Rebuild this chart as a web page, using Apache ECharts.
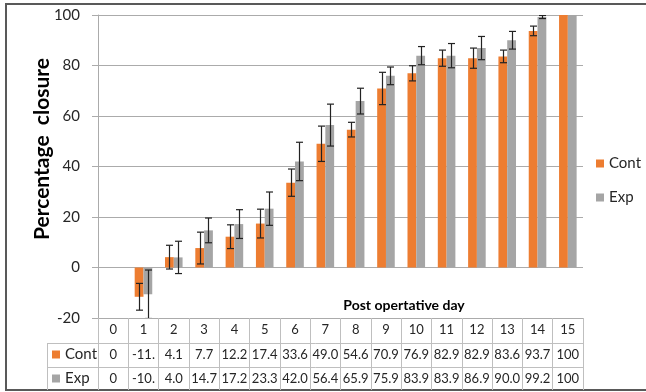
<!DOCTYPE html>
<html><head><meta charset="utf-8">
<script src="https://cdn.jsdelivr.net/npm/echarts@6/dist/echarts.min.js"></script>
<style>html,body{margin:0;padding:0;background:#fff}#c{width:646px;height:392px}</style>
</head><body><div id="c"></div>
<script>
// ---- data ----
const days = ['0','1','2','3','4','5','6','7','8','9','10','11','12','13','14','15'];
const cont = [0, -11.6, 4.1, 7.7, 12.2, 17.4, 33.6, 49.0, 54.6, 70.9, 76.9, 82.9, 82.9, 83.6, 93.7, 100];
const exp  = [0, -10.6, 4.0, 14.7, 17.2, 23.3, 42.0, 56.4, 65.9, 75.9, 83.9, 83.9, 86.9, 90.0, 99.2, 100];
const contErr = [0, 5.3, 4.7, 6.3, 4.7, 5.7, 5.4, 7.0, 2.9, 6.4, 3.0, 3.2, 4.0, 2.5, 1.9, 0];
const expErr  = [0, 9.6, 6.4, 4.9, 5.7, 6.6, 7.6, 8.3, 5.1, 3.5, 3.6, 4.8, 4.6, 3.5, 0.6, 0];
const seriesNames = ['Cont', 'Exp'];
const yMin = -20, yMax = 100, yStep = 20;
const yTitle = 'Percentage  closure';
const xTitle = 'Post opertative day';

// ---- layout / style ----
const FONT = 'Lato, "Open Sans", sans-serif';
const G = {left: 98, right: 63, top: 15, bottom: 74};
const W = 646, H = 392;
const BAR_FRAC = 0.29;
const ORANGE = '#ED7D31', GREY = '#A5A5A5';
const GRID_C = '#ABABAB', TABLE_C = '#BFBFBF', TXT = '#262626';

function fmt(v) {
  if (v === 0 || v === 100) return String(v);
  return v.toFixed(1).slice(0, 4);
}

function errSeries(vals, errs, side) {
  return {
    type: 'custom', xAxisIndex: 0, yAxisIndex: 0, clip: true, z: 10,
    silent: true,
    data: vals.map((v, i) => [i, v, errs[i]]),
    encode: {x: 0, y: 1},
    renderItem: function (params, api) {
      const i = api.value(0), v = api.value(1), e = api.value(2);
      if (!e) return null;
      const band = api.size([1, 0])[0];
      const bw = band * BAR_FRAC;
      const c = api.coord([i, v]);
      const x = Math.round(c[0] + side * bw / 2) + 0.5;
      const top = api.coord([i, v + e])[1];
      const bot = api.coord([i, v - e])[1];
      const cap = 3.5;
      const style = {stroke: '#222', lineWidth: 1.2};
      return {type: 'group', children: [
        {type: 'line', shape: {x1: x, y1: top, x2: x, y2: bot}, style: style},
        {type: 'line', shape: {x1: x - cap, y1: top, x2: x + cap, y2: top}, style: style},
        {type: 'line', shape: {x1: x - cap, y1: bot, x2: x + cap, y2: bot}, style: style}
      ]};
    }
  };
}

const gridBottomY = H - G.bottom;      // 318
const gridRightX = W - G.right;        // 583
const row1 = gridBottomY + 25, row2 = gridBottomY + 49;

const chart = echarts.init(document.getElementById('c'), null, {renderer: 'canvas'});
chart.setOption({
  animation: false,
  backgroundColor: '#fff',
  textStyle: {fontFamily: FONT},
  grid: {left: G.left, right: G.right, top: G.top, bottom: G.bottom, containLabel: false, outerBoundsMode: 'none'},
  legend: [
    {
      data: seriesNames, orient: 'vertical', left: 596, top: 156, padding: 0,
      itemWidth: 8, itemHeight: 8, itemGap: 19, icon: 'rect', selectedMode: false,
      textStyle: {fontSize: 15, color: TXT, fontFamily: FONT}
    },
    {
      data: seriesNames, orient: 'vertical', left: 52, top: 347, padding: 0,
      itemWidth: 8, itemHeight: 8, itemGap: 9, icon: 'rect', selectedMode: false,
      textStyle: {fontSize: 15, color: TXT, fontFamily: FONT}
    }
  ],
  xAxis: [
    {
      type: 'category', data: days, position: 'bottom',
      axisLine: {onZero: false, lineStyle: {color: GRID_C, width: 1}},
      axisTick: {show: true, alignWithLabel: false, length: 72, interval: 0, lineStyle: {color: TABLE_C}},
      axisLabel: {interval: 0, margin: 5, fontSize: 13, color: TXT, fontFamily: FONT},
      splitLine: {show: false}
    },
    {
      type: 'category', data: days, position: 'bottom', offset: 25,
      axisLine: {show: false}, axisTick: {show: false}, splitLine: {show: false},
      axisLabel: {interval: 0, margin: 5, fontSize: 13, color: TXT, fontFamily: FONT,
        formatter: (v, i) => fmt(cont[i])}
    },
    {
      type: 'category', data: days, position: 'bottom', offset: 49,
      axisLine: {show: false}, axisTick: {show: false}, splitLine: {show: false},
      axisLabel: {interval: 0, margin: 5, fontSize: 13, color: TXT, fontFamily: FONT,
        formatter: (v, i) => fmt(exp[i])}
    }
  ],
  yAxis: {
    type: 'value', min: yMin, max: yMax, interval: yStep,
    axisLine: {show: true, lineStyle: {color: GRID_C}},
    axisTick: {show: true, length: 6, lineStyle: {color: GRID_C}},
    axisLabel: {margin: 18, fontSize: 15, color: TXT, fontFamily: FONT},
    splitLine: {show: true, lineStyle: {color: GRID_C, width: 1}}
  },
  series: [
    {name: seriesNames[0], type: 'bar', data: cont, barWidth: (BAR_FRAC * 100) + '%', barGap: '0%',
      itemStyle: {color: ORANGE}, z: 2},
    {name: seriesNames[1], type: 'bar', data: exp, barWidth: (BAR_FRAC * 100) + '%', barGap: '0%',
      itemStyle: {color: GREY}, z: 2},
    errSeries(cont, contErr, -1),
    errSeries(exp, expErr, 1)
  ],
  graphic: [
    {type: 'rect', silent: true, shape: {x: 6, y: 4, width: 700, height: 386},
      style: {fill: null, stroke: '#595959', lineWidth: 2}},
    {type: 'line', silent: true, shape: {x1: 47.5, y1: row1 + 0.5, x2: gridRightX, y2: row1 + 0.5},
      style: {stroke: TABLE_C, lineWidth: 1}},
    {type: 'line', silent: true, shape: {x1: 47.5, y1: row2 + 0.5, x2: gridRightX, y2: row2 + 0.5},
      style: {stroke: TABLE_C, lineWidth: 1}},
    {type: 'line', silent: true, shape: {x1: 47.5, y1: row1, x2: 47.5, y2: 390},
      style: {stroke: TABLE_C, lineWidth: 1}},
    {type: 'text', silent: true, x: 42, y: 149, rotation: Math.PI / 2,
      style: {text: yTitle, font: 'bold 21px ' + FONT, fill: '#000', textAlign: 'center', textVerticalAlign: 'middle'}},
    {type: 'text', silent: true, x: 404, y: 305,
      style: {text: xTitle, font: 'bold 14px ' + FONT, fill: '#000', textAlign: 'center', textVerticalAlign: 'middle'}}
  ]
});
</script></body></html>
